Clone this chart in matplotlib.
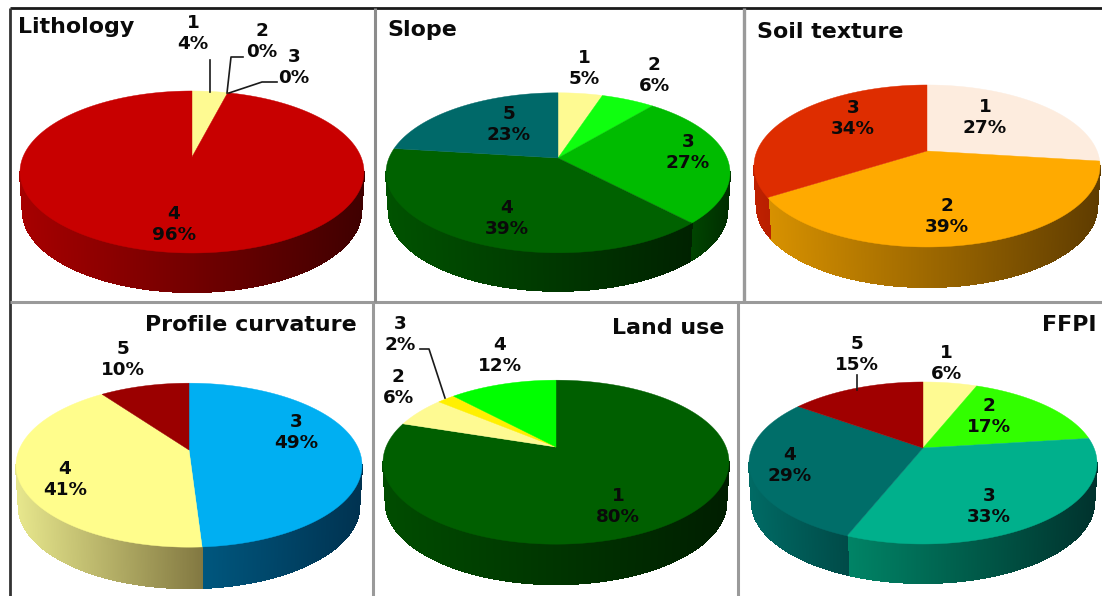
import numpy as np
import matplotlib
matplotlib.use("Agg")
import matplotlib.pyplot as plt
from matplotlib.patches import Polygon
from matplotlib.collections import PolyCollection

# Class shares per factor, in percent
lithology_classes = ["1", "2", "3", "4"]
lithology_values = [4, 0, 0, 96]
slope_classes = ["1", "2", "3", "4", "5"]
slope_values = [5, 6, 27, 39, 23]
soil_classes = ["1", "2", "3"]
soil_values = [27, 39, 34]
curvature_classes = ["3", "4", "5"]
curvature_values = [49, 41, 10]
landuse_classes = ["1", "2", "3", "4"]
landuse_values = [80, 6, 2, 12]
ffpi_classes = ["1", "2", "3", "4", "5"]
ffpi_values = [6, 17, 33, 29, 15]


def rgb(r, g, b):
    return (r / 255, g / 255, b / 255)


YELLOW = rgb(254, 250, 146)
BLACK_WALL = (rgb(0, 0, 0), rgb(0, 0, 0))  # back slices never show a wall
panels = [
    dict(title="Lithology", tx=18, ty=27, ha="left",
         classes=lithology_classes, values=lithology_values,
         colors=[YELLOW, rgb(255, 255, 80), rgb(255, 204, 0), rgb(200, 0, 0)],
         walls=[BLACK_WALL, BLACK_WALL, BLACK_WALL, (rgb(166, 0, 0), rgb(63, 0, 0))],
         apex=(192, 157), rx=172, ry=81, depth=39,
         labels=[(193, 23), (262, 31), (294, 57), (174, 214)]),
    dict(title="Slope", tx=387, ty=30, ha="left",
         classes=slope_classes, values=slope_values,
         colors=[YELLOW, rgb(15, 255, 15), rgb(0, 187, 0), rgb(0, 98, 0), rgb(0, 105, 105)],
         walls=[BLACK_WALL, BLACK_WALL, (rgb(0, 150, 0), rgb(0, 45, 0)),
                (rgb(0, 82, 0), rgb(0, 34, 0)), BLACK_WALL],
         apex=(558, 158), rx=172, ry=80, depth=38,
         labels=[(584, 58), (654, 65), (688, 142), (507, 208), (509, 114)]),
    dict(title="Soil texture", tx=757, ty=32, ha="left",
         classes=soil_classes, values=soil_values,
         colors=[rgb(253, 236, 222), rgb(255, 170, 0), rgb(222, 45, 0)],
         walls=[BLACK_WALL, (rgb(215, 145, 0), rgb(95, 60, 0)), (rgb(190, 32, 0), rgb(120, 20, 0))],
         apex=(927, 151), rx=173, ry=81, depth=40,
         labels=[(985, 107), (947, 206), (853, 108)]),
    dict(title="Profile curvature", tx=357, ty=325, ha="right",
         classes=curvature_classes, values=curvature_values,
         colors=[rgb(0, 175, 242), rgb(255, 253, 140), rgb(155, 0, 0)],
         walls=[(rgb(0, 90, 130), rgb(0, 50, 80)), (rgb(230, 230, 140), rgb(130, 120, 65)), BLACK_WALL],
         apex=(189, 450), rx=173, ry=82, depth=41,
         labels=[(296, 422), (65, 469), (123, 349)]),
    dict(title="Land use", tx=724, ty=328, ha="right",
         classes=landuse_classes, values=landuse_values,
         colors=[rgb(0, 95, 0), YELLOW, rgb(255, 240, 0), rgb(0, 255, 0)],
         walls=[(rgb(0, 76, 0), rgb(0, 30, 0)), BLACK_WALL, BLACK_WALL, BLACK_WALL],
         apex=(556, 447), rx=173, ry=82, depth=40,
         labels=[(618, 496), (398, 377), (400, 324), (500, 345)]),
    dict(title="FFPI", tx=1096, ty=325, ha="right",
         classes=ffpi_classes, values=ffpi_values,
         colors=[YELLOW, rgb(50, 255, 0), rgb(0, 176, 140), rgb(0, 110, 105), rgb(160, 0, 0)],
         walls=[BLACK_WALL, BLACK_WALL, (rgb(0, 132, 102), rgb(0, 50, 45)),
                (rgb(0, 106, 100), rgb(0, 50, 50)), BLACK_WALL],
         apex=(923, 448), rx=174, ry=81, depth=39,
         labels=[(946, 353), (989, 406), (989, 496), (790, 455), (857, 344)]),
]

# Thin leader lines from outside labels to the rim
leaders = [
    [(210, 60), (210, 92)],
    [(243, 57), (231, 57), (227, 93)],
    [(277, 82), (262, 82), (229, 93)],
    [(420, 349), (429, 349), (445, 398)],
    [(857, 375), (857, 390)],
]

# Frame segments: (x points, y points, colour, width)
frame = [
    ([10, 1102], [8, 8], "#1a1a1a", 2.0),
    ([10, 10], [8, 596], "#333333", 2.0),
    ([10, 1102], [302, 302], "#9a9a9a", 2.2),
    ([375, 375], [8, 302], "#8c8c8c", 2.2),
    ([744, 744], [8, 302], "#9a9a9a", 2.4),
    ([373, 373], [302, 596], "#9a9a9a", 2.2),
    ([738, 738], [302, 596], "#9a9a9a", 2.2),
]

TILT = 0.185            # foreshortening of the far side of the disc
BASE_NARROWING = 0.984  # lower rim sits slightly further away


def rim(theta, apex, rx, ry):
    """Project disc angles (clockwise from north) into pixel space."""
    u, v = np.sin(theta), np.cos(theta)
    w = 1 + TILT * v
    x = apex[0] + rx * np.sqrt(1 - TILT ** 2) * u / w
    y = apex[1] - ry * (1 - TILT ** 2) * v / w
    return x, y


def draw_pie(ax, p):
    apex, rx, ry, depth = p["apex"], p["rx"], p["ry"], p["depth"]
    centre_y = apex[1] + TILT * ry
    total = sum(p["values"])
    edges = np.cumsum([0] + list(p["values"])) / total * 2 * np.pi
    for start, stop, (left, right) in zip(edges[:-1], edges[1:], p["walls"]):
        if stop <= start:
            continue
        theta = np.linspace(start, stop, max(int((stop - start) * 180), 4))
        x, y = rim(theta, apex, rx, ry)
        xb = apex[0] + (x - apex[0]) * BASE_NARROWING
        # Shading runs across the whole slice, apex included
        lo, hi = min(x.min(), apex[0]), max(x.max(), apex[0])
        idx = np.flatnonzero(y >= centre_y - 0.5)
        quads, shades = [], []
        for a, b in zip(idx[:-1], idx[1:]):
            if b != a + 1:
                continue
            quads.append([(x[a], y[a]), (x[b], y[b]),
                          (xb[b], y[b] + depth), (xb[a], y[a] + depth)])
            t = ((x[a] + x[b]) / 2 - lo) / max(hi - lo, 1)
            shades.append(tuple(l + (r - l) * t for l, r in zip(left, right)))
        if quads:
            ax.add_collection(PolyCollection(quads, facecolors=shades, edgecolors=shades,
                                             linewidths=0.8, antialiaseds=False, zorder=2))
    for start, stop, col in zip(edges[:-1], edges[1:], p["colors"]):
        if stop <= start:
            continue
        theta = np.linspace(start, stop, max(int((stop - start) * 180), 4))
        x, y = rim(theta, apex, rx, ry)
        pts = np.column_stack([np.r_[apex[0], x], np.r_[apex[1], y]])
        ax.add_patch(Polygon(pts, closed=True, facecolor=col, edgecolor=col,
                             linewidth=0.3, zorder=3))


fig = plt.figure(figsize=(11.02, 5.96), dpi=100, facecolor="white")
ax = fig.add_axes([0, 0, 1, 1])
ax.set_xlim(0, 1102)
ax.set_ylim(596, 0)
ax.axis("off")

for xs, ys, c, lw in frame:
    ax.plot(xs, ys, color=c, lw=lw, solid_capstyle="butt", zorder=1)

for p in panels:
    draw_pie(ax, p)
    ax.text(p["tx"], p["ty"], p["title"], ha=p["ha"], va="center",
            fontsize=15.9, fontweight="bold", color="#0a0a0a", zorder=6)
    for cls, val, (lx, ly) in zip(p["classes"], p["values"], p["labels"]):
        ax.text(lx, ly, cls, ha="center", va="center", fontsize=13.2,
                fontweight="bold", color="#0a0a0a", zorder=6)
        ax.text(lx, ly + 21, f"{val}%", ha="center", va="center", fontsize=13.2,
                fontweight="bold", color="#0a0a0a", zorder=6)

for path in leaders:
    xs, ys = zip(*path)
    ax.plot(xs, ys, color="#1a1a1a", lw=1.2, zorder=5)

fig.savefig("out.png", dpi=100)
